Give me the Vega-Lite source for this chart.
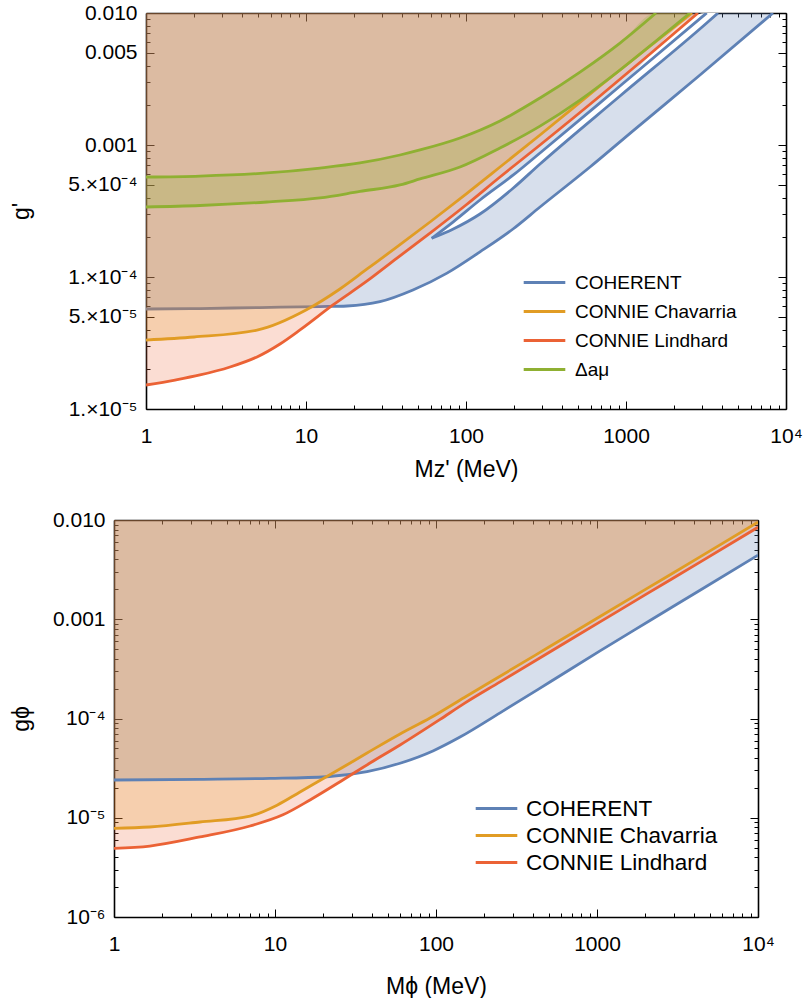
{
  "$schema": "https://vega.github.io/schema/vega-lite/v6.json",
  "padding": {"left": 10, "top": 2, "right": 0, "bottom": 0},
  "background": "white",
  "config": {
    "font": "Liberation Sans",
    "view": {"stroke": null},
    "axis": {"grid": false, "domain": false, "labelColor": "black", "titleColor": "black", "tickColor": "black", "domainColor": "black", "labelFont": "Liberation Sans", "titleFont": "Liberation Sans", "titleFontWeight": "normal", "labelOverlap": false, "labelFlush": false, "labelBound": false, "zindex": 1, "tickWidth": 1, "domainWidth": 1.6, "labelFontSize": 21, "titleFontSize": 23}
  },
  "datasets": {
    "top": [
      {"series": "COHERENT", "seg": "outer", "M": 1, "g": 5.72e-5},
      {"series": "COHERENT", "seg": "outer", "M": 2.175, "g": 5.77e-5},
      {"series": "COHERENT", "seg": "outer", "M": 5.158, "g": 5.87e-5},
      {"series": "COHERENT", "seg": "outer", "M": 12.23, "g": 5.97e-5},
      {"series": "COHERENT", "seg": "outer", "M": 18.04, "g": 6.03e-5},
      {"series": "COHERENT", "seg": "outer", "M": 29.0, "g": 6.5e-5},
      {"series": "COHERENT", "seg": "outer", "M": 46.6, "g": 7.97e-5},
      {"series": "COHERENT", "seg": "outer", "M": 76.1, "g": 1.07e-4},
      {"series": "COHERENT", "seg": "outer", "M": 122.3, "g": 1.55e-4},
      {"series": "COHERENT", "seg": "outer", "M": 196.7, "g": 2.31e-4},
      {"series": "COHERENT", "seg": "outer", "M": 290.1, "g": 3.39e-4},
      {"series": "COHERENT", "seg": "outer", "M": 595.7, "g": 6.81e-4},
      {"series": "COHERENT", "seg": "outer", "M": 1106, "g": 1.28e-3},
      {"series": "COHERENT", "seg": "outer", "M": 2901, "g": 3.39e-3},
      {"series": "COHERENT", "seg": "outer", "M": 8293, "g": 0.01},
      {"series": "COHERENT", "seg": "sliverHi", "M": 61.03, "g": 1.964e-4},
      {"series": "COHERENT", "seg": "sliverHi", "M": 83.3, "g": 2.62e-4},
      {"series": "COHERENT", "seg": "sliverHi", "M": 122.3, "g": 3.83e-4},
      {"series": "COHERENT", "seg": "sliverHi", "M": 197.6, "g": 5.93e-4},
      {"series": "COHERENT", "seg": "sliverHi", "M": 290.1, "g": 8.7e-4},
      {"series": "COHERENT", "seg": "sliverHi", "M": 917.3, "g": 2.8e-3},
      {"series": "COHERENT", "seg": "sliverHi", "M": 3195, "g": 0.01},
      {"series": "COHERENT", "seg": "sliverLo", "M": 61.03, "g": 1.964e-4},
      {"series": "COHERENT", "seg": "sliverLo", "M": 83.3, "g": 2.31e-4},
      {"series": "COHERENT", "seg": "sliverLo", "M": 122.3, "g": 3.0e-4},
      {"series": "COHERENT", "seg": "sliverLo", "M": 197.6, "g": 4.72e-4},
      {"series": "COHERENT", "seg": "sliverLo", "M": 290.1, "g": 7.18e-4},
      {"series": "COHERENT", "seg": "sliverLo", "M": 917.3, "g": 2.35e-3},
      {"series": "COHERENT", "seg": "sliverLo", "M": 3195, "g": 8.4e-3},
      {"series": "COHERENT", "seg": "sliverLo", "M": 3758, "g": 0.01},
      {"series": "CONNIE Chavarria", "seg": "chav", "M": 1, "g": 3.33e-5},
      {"series": "CONNIE Chavarria", "seg": "chav", "M": 2.0, "g": 3.51e-5},
      {"series": "CONNIE Chavarria", "seg": "chav", "M": 5.01, "g": 3.97e-5},
      {"series": "CONNIE Chavarria", "seg": "chav", "M": 10, "g": 5.62e-5},
      {"series": "CONNIE Chavarria", "seg": "chav", "M": 16.3, "g": 8.11e-5},
      {"series": "CONNIE Chavarria", "seg": "chav", "M": 24.1, "g": 1.15e-4},
      {"series": "CONNIE Chavarria", "seg": "chav", "M": 37.05, "g": 1.69e-4},
      {"series": "CONNIE Chavarria", "seg": "chav", "M": 59.6, "g": 2.61e-4},
      {"series": "CONNIE Chavarria", "seg": "chav", "M": 100, "g": 4.25e-4},
      {"series": "CONNIE Chavarria", "seg": "chav", "M": 163.1, "g": 6.81e-4},
      {"series": "CONNIE Chavarria", "seg": "chav", "M": 290.1, "g": 1.19e-3},
      {"series": "CONNIE Chavarria", "seg": "chav", "M": 687.9, "g": 2.8e-3},
      {"series": "CONNIE Chavarria", "seg": "chav", "M": 1413, "g": 5.62e-3},
      {"series": "CONNIE Chavarria", "seg": "chav", "M": 2585, "g": 0.01},
      {"series": "CONNIE Lindhard", "seg": "lind", "M": 1, "g": 1.52e-5},
      {"series": "CONNIE Lindhard", "seg": "lind", "M": 1.518, "g": 1.658e-5},
      {"series": "CONNIE Lindhard", "seg": "lind", "M": 2.175, "g": 1.81e-5},
      {"series": "CONNIE Lindhard", "seg": "lind", "M": 3.35, "g": 2.08e-5},
      {"series": "CONNIE Lindhard", "seg": "lind", "M": 4.94, "g": 2.48e-5},
      {"series": "CONNIE Lindhard", "seg": "lind", "M": 6.88, "g": 3.11e-5},
      {"series": "CONNIE Lindhard", "seg": "lind", "M": 9.173, "g": 3.97e-5},
      {"series": "CONNIE Lindhard", "seg": "lind", "M": 14.75, "g": 6.14e-5},
      {"series": "CONNIE Lindhard", "seg": "lind", "M": 24.1, "g": 9.33e-5},
      {"series": "CONNIE Lindhard", "seg": "lind", "M": 37.05, "g": 1.39e-4},
      {"series": "CONNIE Lindhard", "seg": "lind", "M": 59.6, "g": 2.15e-4},
      {"series": "CONNIE Lindhard", "seg": "lind", "M": 100, "g": 3.51e-4},
      {"series": "CONNIE Lindhard", "seg": "lind", "M": 163.1, "g": 5.72e-4},
      {"series": "CONNIE Lindhard", "seg": "lind", "M": 290.1, "g": 1.0e-3},
      {"series": "CONNIE Lindhard", "seg": "lind", "M": 687.9, "g": 2.35e-3},
      {"series": "CONNIE Lindhard", "seg": "lind", "M": 1413, "g": 4.89e-3},
      {"series": "CONNIE Lindhard", "seg": "lind", "M": 2818, "g": 0.01},
      {"series": "Δaμ", "seg": "gHi", "M": 1, "g": 5.72e-4},
      {"series": "Δaμ", "seg": "gHi", "M": 2.175, "g": 5.82e-4},
      {"series": "Δaμ", "seg": "gHi", "M": 5.705, "g": 6.14e-4},
      {"series": "Δaμ", "seg": "gHi", "M": 12.23, "g": 6.69e-4},
      {"series": "Δaμ", "seg": "gHi", "M": 21.75, "g": 7.31e-4},
      {"series": "Δaμ", "seg": "gHi", "M": 38.68, "g": 8.4e-4},
      {"series": "Δaμ", "seg": "gHi", "M": 51.58, "g": 9.17e-4},
      {"series": "Δaμ", "seg": "gHi", "M": 91.73, "g": 1.13e-3},
      {"series": "Δaμ", "seg": "gHi", "M": 163.1, "g": 1.52e-3},
      {"series": "Δaμ", "seg": "gHi", "M": 290.1, "g": 2.27e-3},
      {"series": "Δaμ", "seg": "gHi", "M": 515.8, "g": 3.57e-3},
      {"series": "Δaμ", "seg": "gHi", "M": 917.3, "g": 5.92e-3},
      {"series": "Δaμ", "seg": "gHi", "M": 1540, "g": 0.01},
      {"series": "Δaμ", "seg": "gLo", "M": 1, "g": 3.39e-4},
      {"series": "Δaμ", "seg": "gLo", "M": 2.175, "g": 3.48e-4},
      {"series": "Δaμ", "seg": "gLo", "M": 5.705, "g": 3.7e-4},
      {"series": "Δaμ", "seg": "gLo", "M": 12.23, "g": 3.97e-4},
      {"series": "Δaμ", "seg": "gLo", "M": 21.75, "g": 4.45e-4},
      {"series": "Δaμ", "seg": "gLo", "M": 38.68, "g": 4.98e-4},
      {"series": "Δaμ", "seg": "gLo", "M": 51.58, "g": 5.53e-4},
      {"series": "Δaμ", "seg": "gLo", "M": 91.73, "g": 6.81e-4},
      {"series": "Δaμ", "seg": "gLo", "M": 163.1, "g": 9.49e-4},
      {"series": "Δaμ", "seg": "gLo", "M": 290.1, "g": 1.39e-3},
      {"series": "Δaμ", "seg": "gLo", "M": 515.8, "g": 2.19e-3},
      {"series": "Δaμ", "seg": "gLo", "M": 917.3, "g": 3.7e-3},
      {"series": "Δaμ", "seg": "gLo", "M": 1540, "g": 6.14e-3},
      {"series": "Δaμ", "seg": "gLo", "M": 2512, "g": 0.01}
    ],
    "band": [
      {"M": 1, "lo": 3.39e-4, "hi": 5.72e-4},
      {"M": 2.175, "lo": 3.48e-4, "hi": 5.82e-4},
      {"M": 5.705, "lo": 3.7e-4, "hi": 6.14e-4},
      {"M": 12.23, "lo": 3.97e-4, "hi": 6.69e-4},
      {"M": 21.75, "lo": 4.45e-4, "hi": 7.31e-4},
      {"M": 38.68, "lo": 4.98e-4, "hi": 8.4e-4},
      {"M": 51.58, "lo": 5.53e-4, "hi": 9.17e-4},
      {"M": 91.73, "lo": 6.81e-4, "hi": 1.13e-3},
      {"M": 163.1, "lo": 9.49e-4, "hi": 1.52e-3},
      {"M": 290.1, "lo": 1.39e-3, "hi": 2.27e-3},
      {"M": 515.8, "lo": 2.19e-3, "hi": 3.57e-3},
      {"M": 917.3, "lo": 3.7e-3, "hi": 5.92e-3},
      {"M": 1540, "lo": 6.14e-3, "hi": 0.01},
      {"M": 2512, "lo": 0.01, "hi": 0.01}
    ],
    "sliver": [
      {"M": 61.03, "lo": 1.964e-4, "hi": 1.964e-4},
      {"M": 83.3, "lo": 2.31e-4, "hi": 2.62e-4},
      {"M": 122.3, "lo": 3.0e-4, "hi": 3.83e-4},
      {"M": 197.6, "lo": 4.72e-4, "hi": 5.93e-4},
      {"M": 290.1, "lo": 7.18e-4, "hi": 8.7e-4},
      {"M": 917.3, "lo": 2.35e-3, "hi": 2.8e-3},
      {"M": 3195, "lo": 8.4e-3, "hi": 0.01},
      {"M": 3758, "lo": 0.01, "hi": 0.01}
    ],
    "bot": [
      {"series": "COHERENT", "M": 1, "g": 2.4e-5},
      {"series": "COHERENT", "M": 3.42, "g": 2.44e-5},
      {"series": "COHERENT", "M": 9.31, "g": 2.49e-5},
      {"series": "COHERENT", "M": 21.0, "g": 2.59e-5},
      {"series": "COHERENT", "M": 37.3, "g": 2.91e-5},
      {"series": "COHERENT", "M": 59.8, "g": 3.54e-5},
      {"series": "COHERENT", "M": 95.7, "g": 4.71e-5},
      {"series": "COHERENT", "M": 141, "g": 6.5e-5},
      {"series": "COHERENT", "M": 250, "g": 1.14e-4},
      {"series": "COHERENT", "M": 510, "g": 2.33e-4},
      {"series": "COHERENT", "M": 1044, "g": 4.8e-4},
      {"series": "COHERENT", "M": 2134, "g": 9.7e-4},
      {"series": "COHERENT", "M": 4365, "g": 1.96e-3},
      {"series": "COHERENT", "M": 10000, "g": 4.43e-3},
      {"series": "CONNIE Chavarria", "M": 1, "g": 7.83e-6},
      {"series": "CONNIE Chavarria", "M": 1.67, "g": 8.07e-6},
      {"series": "CONNIE Chavarria", "M": 3.42, "g": 9.06e-6},
      {"series": "CONNIE Chavarria", "M": 7.0, "g": 1.04e-5},
      {"series": "CONNIE Chavarria", "M": 10.3, "g": 1.34e-5},
      {"series": "CONNIE Chavarria", "M": 14.3, "g": 1.82e-5},
      {"series": "CONNIE Chavarria", "M": 22.9, "g": 2.82e-5},
      {"series": "CONNIE Chavarria", "M": 37.3, "g": 4.49e-5},
      {"series": "CONNIE Chavarria", "M": 59.8, "g": 6.98e-5},
      {"series": "CONNIE Chavarria", "M": 91.8, "g": 1.01e-4},
      {"series": "CONNIE Chavarria", "M": 150, "g": 1.628e-4},
      {"series": "CONNIE Chavarria", "M": 250, "g": 2.668e-4},
      {"series": "CONNIE Chavarria", "M": 500, "g": 5.22e-4},
      {"series": "CONNIE Chavarria", "M": 1044, "g": 1.065e-3},
      {"series": "CONNIE Chavarria", "M": 2000, "g": 1.998e-3},
      {"series": "CONNIE Chavarria", "M": 4365, "g": 4.25e-3},
      {"series": "CONNIE Chavarria", "M": 10000, "g": 9.5e-3},
      {"series": "CONNIE Lindhard", "M": 1, "g": 4.92e-6},
      {"series": "CONNIE Lindhard", "M": 1.67, "g": 5.19e-6},
      {"series": "CONNIE Lindhard", "M": 3.42, "g": 6.4e-6},
      {"series": "CONNIE Lindhard", "M": 7.0, "g": 8.26e-6},
      {"series": "CONNIE Lindhard", "M": 11.2, "g": 1.07e-5},
      {"series": "CONNIE Lindhard", "M": 16.5, "g": 1.51e-5},
      {"series": "CONNIE Lindhard", "M": 26.4, "g": 2.4e-5},
      {"series": "CONNIE Lindhard", "M": 38.9, "g": 3.56e-5},
      {"series": "CONNIE Lindhard", "M": 59.8, "g": 5.41e-5},
      {"series": "CONNIE Lindhard", "M": 106, "g": 9.8e-5},
      {"series": "CONNIE Lindhard", "M": 150, "g": 1.42e-4},
      {"series": "CONNIE Lindhard", "M": 250, "g": 2.34e-4},
      {"series": "CONNIE Lindhard", "M": 500, "g": 4.6e-4},
      {"series": "CONNIE Lindhard", "M": 1044, "g": 9.4e-4},
      {"series": "CONNIE Lindhard", "M": 2000, "g": 1.77e-3},
      {"series": "CONNIE Lindhard", "M": 4365, "g": 3.76e-3},
      {"series": "CONNIE Lindhard", "M": 10000, "g": 8.45e-3}
    ]
  },
  "vconcat": [
    {
      "bounds": "flush",
      "spacing": 31,
      "hconcat": [
        {"width": 1, "height": 1, "data": {"values": []}, "mark": {"type": "point", "opacity": 0}},
        {
          "width": 640,
          "height": 396,
          "resolve": {"axis": {"x": "independent", "y": "independent"}},
          "layer": [
            {
              "data": {"name": "top"},
              "transform": [{"filter": "datum.seg === 'outer'"}],
              "mark": {"type": "area", "color": "#5E81B5", "opacity": 0.25, "interpolate": "monotone", "clip": true},
              "encoding": {
                "x": {"field": "M", "type": "quantitative", "scale": {"type": "log", "domain": [1, 10000], "nice": false},
                  "axis": {"orient": "bottom", "values": [1, 10, 100, 1000, 10000], "ticks": false, "labelPadding": 16,
                    "labelExpr": "datum.value < 5 ? '1' : datum.value < 50 ? '10' : datum.value < 500 ? '100' : datum.value < 5000 ? '1000' : '10⁴'",
                    "title": "Mz' (MeV)", "titleY": 49}},
                "y": {"field": "g", "type": "quantitative", "scale": {"type": "log", "domain": [1e-5, 0.01], "nice": false},
                  "axis": {"orient": "left", "values": [1e-5, 5e-5, 1e-4, 5e-4, 0.001, 0.005, 0.01], "ticks": false, "labelPadding": 9,
                    "labelExpr": "datum.value < 2e-5 ? '1.×10⁻⁵' : datum.value < 7e-5 ? '5.×10⁻⁵' : datum.value < 2e-4 ? '1.×10⁻⁴' : datum.value < 7e-4 ? '5.×10⁻⁴' : datum.value < 2e-3 ? '0.001' : datum.value < 7e-3 ? '0.005' : '0.010'",
                    "title": "g'", "titleX": -113}},
                "y2": {"datum": 0.01}
              }
            },
            {
              "data": {"name": "sliver"},
              "mark": {"type": "area", "color": "white", "opacity": 1, "interpolate": "monotone", "clip": true},
              "encoding": {
                "x": {"field": "M", "type": "quantitative", "scale": {"type": "log", "domain": [1, 10000], "nice": false},
                  "axis": {"orient": "bottom", "values": [1, 10, 100, 1000, 10000], "labels": false, "tickSize": -8, "domain": true, "title": null}},
                "y": {"field": "lo", "type": "quantitative", "scale": {"type": "log", "domain": [1e-5, 0.01], "nice": false},
                  "axis": {"orient": "left", "values": [1e-5, 5e-5, 1e-4, 5e-4, 0.001, 0.005, 0.01], "labels": false, "tickSize": -8, "domain": true, "title": null}},
                "y2": {"field": "hi"}
              }
            },
            {
              "data": {"name": "top"},
              "transform": [{"filter": "datum.series === 'COHERENT'"}],
              "mark": {"type": "line", "strokeWidth": 2.8, "interpolate": "monotone", "clip": true},
              "encoding": {
                "x": {"field": "M", "type": "quantitative", "scale": {"type": "log", "domain": [1, 10000], "nice": false}, "axis": null},
                "y": {"field": "g", "type": "quantitative", "scale": {"type": "log", "domain": [1e-5, 0.01], "nice": false}, "axis": null},
                "detail": {"field": "seg"},
                "color": {"field": "series", "type": "nominal",
                  "scale": {"domain": ["COHERENT", "CONNIE Chavarria", "CONNIE Lindhard", "Δaμ"], "range": ["#5E81B5", "#E19C24", "#EB6235", "#8FB032"]},
                  "legend": {"orient": "none", "legendX": 416, "legendY": 255, "title": null, "symbolType": "M-1.6,0H1.6", "symbolSize": 676, "symbolStrokeWidth": 3, "labelFontSize": 19, "labelFont": "Liberation Sans", "labelColor": "black", "labelOffset": 16, "labelLimit": 0, "rowPadding": 4, "padding": 0}}
              }
            },
            {
              "data": {"name": "top"},
              "transform": [{"filter": "datum.seg === 'lind'"}],
              "mark": {"type": "area", "color": "#EB6235", "opacity": 0.22, "interpolate": "monotone", "clip": true},
              "encoding": {
                "x": {"field": "M", "type": "quantitative", "scale": {"type": "log", "domain": [1, 10000], "nice": false},
                  "axis": {"orient": "bottom", "values": [2,3,4,5,6,7,8,9,20,30,40,50,60,70,80,90,200,300,400,500,600,700,800,900,2000,3000,4000,5000,6000,7000,8000,9000], "labels": false, "tickSize": -4, "title": null}},
                "y": {"field": "g", "type": "quantitative", "scale": {"type": "log", "domain": [1e-5, 0.01], "nice": false},
                  "axis": {"orient": "left", "values": [2e-5,3e-5,4e-5,6e-5,7e-5,8e-5,9e-5,2e-4,3e-4,4e-4,6e-4,7e-4,8e-4,9e-4,2e-3,3e-3,4e-3,6e-3,7e-3,8e-3,9e-3], "labels": false, "tickSize": -4, "title": null}},
                "y2": {"datum": 0.01}
              }
            },
            {
              "data": {"name": "top"},
              "transform": [{"filter": "datum.seg === 'chav'"}],
              "mark": {"type": "area", "color": "#E19C24", "opacity": 0.21, "interpolate": "monotone", "clip": true},
              "encoding": {
                "x": {"field": "M", "type": "quantitative", "scale": {"type": "log", "domain": [1, 10000], "nice": false},
                  "axis": {"orient": "top", "values": [1, 10, 100, 1000, 10000], "labels": false, "tickSize": -8, "domain": true, "title": null}},
                "y": {"field": "g", "type": "quantitative", "scale": {"type": "log", "domain": [1e-5, 0.01], "nice": false},
                  "axis": {"orient": "right", "values": [1e-5, 5e-5, 1e-4, 5e-4, 0.001, 0.005, 0.01], "labels": false, "tickSize": -8, "domain": true, "title": null}},
                "y2": {"datum": 0.01}
              }
            },
            {
              "data": {"name": "band"},
              "mark": {"type": "area", "color": "#8FB032", "opacity": 0.25, "interpolate": "monotone", "clip": true},
              "encoding": {
                "x": {"field": "M", "type": "quantitative", "scale": {"type": "log", "domain": [1, 10000], "nice": false},
                  "axis": {"orient": "top", "values": [2,3,4,5,6,7,8,9,20,30,40,50,60,70,80,90,200,300,400,500,600,700,800,900,2000,3000,4000,5000,6000,7000,8000,9000], "labels": false, "tickSize": -4, "title": null}},
                "y": {"field": "lo", "type": "quantitative", "scale": {"type": "log", "domain": [1e-5, 0.01], "nice": false},
                  "axis": {"orient": "right", "values": [2e-5,3e-5,4e-5,6e-5,7e-5,8e-5,9e-5,2e-4,3e-4,4e-4,6e-4,7e-4,8e-4,9e-4,2e-3,3e-3,4e-3,6e-3,7e-3,8e-3,9e-3], "labels": false, "tickSize": -4, "title": null}},
                "y2": {"field": "hi"}
              }
            },
            {
              "data": {"name": "top"},
              "transform": [{"filter": "datum.series !== 'COHERENT'"}],
              "mark": {"type": "line", "strokeWidth": 2.8, "interpolate": "monotone", "clip": true},
              "encoding": {
                "x": {"field": "M", "type": "quantitative", "scale": {"type": "log", "domain": [1, 10000], "nice": false}, "axis": null},
                "y": {"field": "g", "type": "quantitative", "scale": {"type": "log", "domain": [1e-5, 0.01], "nice": false}, "axis": null},
                "detail": {"field": "seg"},
                "color": {"field": "series", "type": "nominal",
                  "scale": {"domain": ["COHERENT", "CONNIE Chavarria", "CONNIE Lindhard", "Δaμ"], "range": ["#5E81B5", "#E19C24", "#EB6235", "#8FB032"]},
                  "legend": {"orient": "none", "legendX": 416, "legendY": 255, "title": null, "symbolType": "M-1.6,0H1.6", "symbolSize": 676, "symbolStrokeWidth": 3, "labelFontSize": 19, "labelFont": "Liberation Sans", "labelColor": "black", "labelOffset": 16, "labelLimit": 0, "rowPadding": 4, "padding": 0}}
              }
            }
          ]
        }
      ]
    },
    {
      "width": 644,
      "height": 397,
      "resolve": {"axis": {"x": "independent", "y": "independent"}},
      "layer": [
        {
          "data": {"name": "bot"},
          "transform": [{"filter": "datum.series === 'COHERENT'"}],
          "mark": {"type": "area", "color": "#5E81B5", "opacity": 0.25, "interpolate": "monotone", "clip": true},
          "encoding": {
            "x": {"field": "M", "type": "quantitative", "scale": {"type": "log", "domain": [1, 10000], "nice": false},
              "axis": {"orient": "bottom", "values": [1, 10, 100, 1000, 10000], "ticks": false, "labelPadding": 16,
                "labelExpr": "datum.value < 5 ? '1' : datum.value < 50 ? '10' : datum.value < 500 ? '100' : datum.value < 5000 ? '1000' : '10⁴'",
                "title": "Mϕ (MeV)", "titleY": 58}},
            "y": {"field": "g", "type": "quantitative", "scale": {"type": "log", "domain": [1e-6, 0.01], "nice": false},
              "axis": {"orient": "left", "values": [1e-6, 1e-5, 1e-4, 0.001, 0.01], "ticks": false, "labelPadding": 9,
                "labelExpr": "datum.value < 2e-6 ? '10⁻⁶' : datum.value < 2e-5 ? '10⁻⁵' : datum.value < 2e-4 ? '10⁻⁴' : datum.value < 2e-3 ? '0.001' : '0.010'",
                "title": "gϕ", "titleX": -81}},
            "y2": {"datum": 0.01}
          }
        },
        {
          "data": {"name": "bot"},
          "transform": [{"filter": "datum.series === 'CONNIE Lindhard'"}],
          "mark": {"type": "area", "color": "#EB6235", "opacity": 0.22, "interpolate": "monotone", "clip": true},
          "encoding": {
            "x": {"field": "M", "type": "quantitative", "scale": {"type": "log", "domain": [1, 10000], "nice": false},
              "axis": {"orient": "bottom", "values": [1, 10, 100, 1000, 10000], "labels": false, "tickSize": -8, "domain": true, "title": null}},
            "y": {"field": "g", "type": "quantitative", "scale": {"type": "log", "domain": [1e-6, 0.01], "nice": false},
              "axis": {"orient": "left", "values": [1e-6, 1e-5, 1e-4, 0.001, 0.01], "labels": false, "tickSize": -8, "domain": true, "title": null}},
            "y2": {"datum": 0.01}
          }
        },
        {
          "data": {"name": "bot"},
          "transform": [{"filter": "datum.series === 'CONNIE Chavarria'"}],
          "mark": {"type": "area", "color": "#E19C24", "opacity": 0.21, "interpolate": "monotone", "clip": true},
          "encoding": {
            "x": {"field": "M", "type": "quantitative", "scale": {"type": "log", "domain": [1, 10000], "nice": false},
              "axis": {"orient": "bottom", "values": [2,3,4,5,6,7,8,9,20,30,40,50,60,70,80,90,200,300,400,500,600,700,800,900,2000,3000,4000,5000,6000,7000,8000,9000], "labels": false, "tickSize": -4, "title": null}},
            "y": {"field": "g", "type": "quantitative", "scale": {"type": "log", "domain": [1e-6, 0.01], "nice": false},
              "axis": {"orient": "left", "values": [2e-6,3e-6,4e-6,5e-6,6e-6,7e-6,8e-6,9e-6,2e-5,3e-5,4e-5,5e-5,6e-5,7e-5,8e-5,9e-5,2e-4,3e-4,4e-4,5e-4,6e-4,7e-4,8e-4,9e-4,2e-3,3e-3,4e-3,5e-3,6e-3,7e-3,8e-3,9e-3], "labels": false, "tickSize": -4, "title": null}},
            "y2": {"datum": 0.01}
          }
        },
        {
          "data": {"name": "bot"},
          "transform": [{"filter": "datum.series === 'COHERENT'"}],
          "mark": {"type": "line", "strokeWidth": 2.8, "interpolate": "monotone", "clip": true},
          "encoding": {
            "x": {"field": "M", "type": "quantitative", "scale": {"type": "log", "domain": [1, 10000], "nice": false},
              "axis": {"orient": "top", "values": [1, 10, 100, 1000, 10000], "labels": false, "tickSize": -8, "domain": true, "title": null}},
            "y": {"field": "g", "type": "quantitative", "scale": {"type": "log", "domain": [1e-6, 0.01], "nice": false},
              "axis": {"orient": "right", "values": [1e-6, 1e-5, 1e-4, 0.001, 0.01], "labels": false, "tickSize": -8, "domain": true, "title": null}},
            "color": {"field": "series", "type": "nominal",
              "scale": {"domain": ["COHERENT", "CONNIE Chavarria", "CONNIE Lindhard"], "range": ["#5E81B5", "#E19C24", "#EB6235"]},
              "legend": {"orient": "none", "legendX": 368, "legendY": 274, "title": null, "symbolType": "M-1.6,0H1.6", "symbolSize": 676, "symbolStrokeWidth": 3, "labelFontSize": 22.5, "labelFont": "Liberation Sans", "labelColor": "black", "labelOffset": 15, "labelLimit": 0, "rowPadding": 1, "padding": 0}}
          }
        },
        {
          "data": {"name": "bot"},
          "transform": [{"filter": "datum.series !== 'COHERENT'"}],
          "mark": {"type": "line", "strokeWidth": 2.8, "interpolate": "monotone", "clip": true},
          "encoding": {
            "x": {"field": "M", "type": "quantitative", "scale": {"type": "log", "domain": [1, 10000], "nice": false},
              "axis": {"orient": "top", "values": [2,3,4,5,6,7,8,9,20,30,40,50,60,70,80,90,200,300,400,500,600,700,800,900,2000,3000,4000,5000,6000,7000,8000,9000], "labels": false, "tickSize": -4, "title": null}},
            "y": {"field": "g", "type": "quantitative", "scale": {"type": "log", "domain": [1e-6, 0.01], "nice": false},
              "axis": {"orient": "right", "values": [2e-6,3e-6,4e-6,5e-6,6e-6,7e-6,8e-6,9e-6,2e-5,3e-5,4e-5,5e-5,6e-5,7e-5,8e-5,9e-5,2e-4,3e-4,4e-4,5e-4,6e-4,7e-4,8e-4,9e-4,2e-3,3e-3,4e-3,5e-3,6e-3,7e-3,8e-3,9e-3], "labels": false, "tickSize": -4, "title": null}},
            "color": {"field": "series", "type": "nominal",
              "scale": {"domain": ["COHERENT", "CONNIE Chavarria", "CONNIE Lindhard"], "range": ["#5E81B5", "#E19C24", "#EB6235"]},
              "legend": {"orient": "none", "legendX": 368, "legendY": 274, "title": null, "symbolType": "M-1.6,0H1.6", "symbolSize": 676, "symbolStrokeWidth": 3, "labelFontSize": 22.5, "labelFont": "Liberation Sans", "labelColor": "black", "labelOffset": 15, "labelLimit": 0, "rowPadding": 1, "padding": 0}}
          }
        }
      ]
    }
  ],
  "spacing": 28,
  "resolve": {"scale": {"color": "independent"}, "legend": {"color": "independent"}}
}
